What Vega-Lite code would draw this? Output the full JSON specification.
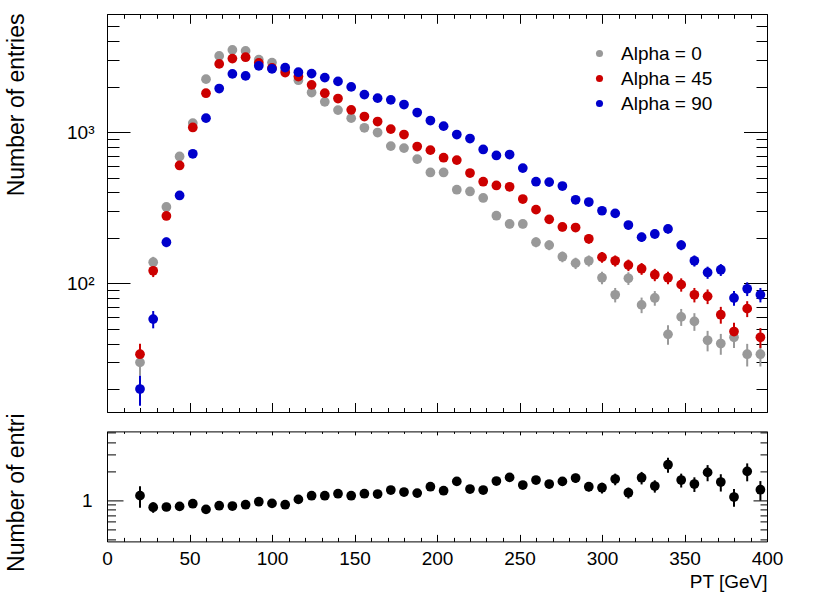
{
  "$schema": "https://vega.github.io/schema/vega-lite/v6.json",
  "padding": {"left": 4, "top": 13, "right": 5, "bottom": 5},
  "background": "white",
  "datasets": {
    "hist": [
      {"pt":20,"s":"Alpha = 0","n":30,"e":5.5},{"pt":28,"s":"Alpha = 0","n":138,"e":11.7},{"pt":36,"s":"Alpha = 0","n":320,"e":17.9},{"pt":44,"s":"Alpha = 0","n":690,"e":26.3},
      {"pt":52,"s":"Alpha = 0","n":1147,"e":33.9},{"pt":60,"s":"Alpha = 0","n":2239,"e":47.3},{"pt":68,"s":"Alpha = 0","n":3192,"e":56.5},{"pt":76,"s":"Alpha = 0","n":3497,"e":59.1},
      {"pt":84,"s":"Alpha = 0","n":3443,"e":58.7},{"pt":92,"s":"Alpha = 0","n":3017,"e":54.9},{"pt":100,"s":"Alpha = 0","n":2883,"e":53.7},{"pt":108,"s":"Alpha = 0","n":2579,"e":50.8},
      {"pt":116,"s":"Alpha = 0","n":2205,"e":47},{"pt":124,"s":"Alpha = 0","n":1826,"e":42.7},{"pt":132,"s":"Alpha = 0","n":1585,"e":39.8},{"pt":140,"s":"Alpha = 0","n":1398,"e":37.4},
      {"pt":148,"s":"Alpha = 0","n":1237,"e":35.2},{"pt":156,"s":"Alpha = 0","n":1068,"e":32.7},{"pt":164,"s":"Alpha = 0","n":994,"e":31.5},{"pt":172,"s":"Alpha = 0","n":808,"e":28.4},
      {"pt":180,"s":"Alpha = 0","n":784,"e":28},{"pt":188,"s":"Alpha = 0","n":663,"e":25.7},{"pt":196,"s":"Alpha = 0","n":541,"e":23.3},{"pt":204,"s":"Alpha = 0","n":541,"e":23.3},
      {"pt":212,"s":"Alpha = 0","n":416,"e":20.4},{"pt":220,"s":"Alpha = 0","n":405,"e":20.1},{"pt":228,"s":"Alpha = 0","n":367,"e":19.2},{"pt":236,"s":"Alpha = 0","n":280,"e":16.7},
      {"pt":244,"s":"Alpha = 0","n":247,"e":15.7},{"pt":252,"s":"Alpha = 0","n":247,"e":15.7},{"pt":260,"s":"Alpha = 0","n":187,"e":13.7},{"pt":268,"s":"Alpha = 0","n":179,"e":13.4},
      {"pt":276,"s":"Alpha = 0","n":150,"e":12.2},{"pt":284,"s":"Alpha = 0","n":136,"e":11.7},{"pt":292,"s":"Alpha = 0","n":141,"e":11.9},{"pt":300,"s":"Alpha = 0","n":109,"e":10.4},
      {"pt":308,"s":"Alpha = 0","n":84,"e":9.2},{"pt":316,"s":"Alpha = 0","n":108,"e":10.4},{"pt":324,"s":"Alpha = 0","n":72,"e":8.5},{"pt":332,"s":"Alpha = 0","n":80,"e":8.9},
      {"pt":340,"s":"Alpha = 0","n":46,"e":6.8},{"pt":348,"s":"Alpha = 0","n":60,"e":7.7},{"pt":356,"s":"Alpha = 0","n":56,"e":7.5},{"pt":364,"s":"Alpha = 0","n":42,"e":6.5},
      {"pt":372,"s":"Alpha = 0","n":40,"e":6.3},{"pt":380,"s":"Alpha = 0","n":44,"e":6.6},{"pt":388,"s":"Alpha = 0","n":34,"e":5.8},{"pt":396,"s":"Alpha = 0","n":34,"e":5.8},
      {"pt":20,"s":"Alpha = 45","n":34,"e":5.8},{"pt":28,"s":"Alpha = 45","n":121,"e":11},{"pt":36,"s":"Alpha = 45","n":279,"e":16.7},{"pt":44,"s":"Alpha = 45","n":602,"e":24.5},
      {"pt":52,"s":"Alpha = 45","n":1073,"e":32.8},{"pt":60,"s":"Alpha = 45","n":1809,"e":42.5},{"pt":68,"s":"Alpha = 45","n":2826,"e":53.2},{"pt":76,"s":"Alpha = 45","n":3063,"e":55.3},
      {"pt":84,"s":"Alpha = 45","n":3129,"e":55.9},{"pt":92,"s":"Alpha = 45","n":2870,"e":53.6},{"pt":100,"s":"Alpha = 45","n":2659,"e":51.6},{"pt":108,"s":"Alpha = 45","n":2476,"e":49.8},
      {"pt":116,"s":"Alpha = 45","n":2329,"e":48.3},{"pt":124,"s":"Alpha = 45","n":2053,"e":45.3},{"pt":132,"s":"Alpha = 45","n":1809,"e":42.5},{"pt":140,"s":"Alpha = 45","n":1667,"e":40.8},
      {"pt":148,"s":"Alpha = 45","n":1404,"e":37.5},{"pt":156,"s":"Alpha = 45","n":1268,"e":35.6},{"pt":164,"s":"Alpha = 45","n":1175,"e":34.3},{"pt":172,"s":"Alpha = 45","n":1047,"e":32.4},
      {"pt":180,"s":"Alpha = 45","n":964,"e":31},{"pt":188,"s":"Alpha = 45","n":803,"e":28.3},{"pt":196,"s":"Alpha = 45","n":760,"e":27.6},{"pt":204,"s":"Alpha = 45","n":677,"e":26},
      {"pt":212,"s":"Alpha = 45","n":653,"e":25.6},{"pt":220,"s":"Alpha = 45","n":536,"e":23.2},{"pt":228,"s":"Alpha = 45","n":470,"e":21.7},{"pt":236,"s":"Alpha = 45","n":444,"e":21.1},
      {"pt":244,"s":"Alpha = 45","n":435,"e":20.9},{"pt":252,"s":"Alpha = 45","n":361,"e":19},{"pt":260,"s":"Alpha = 45","n":307,"e":17.5},{"pt":268,"s":"Alpha = 45","n":265,"e":16.3},
      {"pt":276,"s":"Alpha = 45","n":236,"e":15.4},{"pt":284,"s":"Alpha = 45","n":234,"e":15.3},{"pt":292,"s":"Alpha = 45","n":197,"e":14},{"pt":300,"s":"Alpha = 45","n":149,"e":12.2},
      {"pt":308,"s":"Alpha = 45","n":141,"e":11.9},{"pt":316,"s":"Alpha = 45","n":132,"e":11.5},{"pt":324,"s":"Alpha = 45","n":125,"e":11.2},{"pt":332,"s":"Alpha = 45","n":114,"e":10.7},
      {"pt":340,"s":"Alpha = 45","n":109,"e":10.4},{"pt":348,"s":"Alpha = 45","n":98,"e":9.9},{"pt":356,"s":"Alpha = 45","n":84,"e":9.2},{"pt":364,"s":"Alpha = 45","n":82,"e":9.1},
      {"pt":372,"s":"Alpha = 45","n":62,"e":7.9},{"pt":380,"s":"Alpha = 45","n":48,"e":6.9},{"pt":388,"s":"Alpha = 45","n":68,"e":8.2},{"pt":396,"s":"Alpha = 45","n":44,"e":6.6},
      {"pt":20,"s":"Alpha = 90","n":20,"e":4.5},{"pt":28,"s":"Alpha = 90","n":58,"e":7.6},{"pt":36,"s":"Alpha = 90","n":187,"e":13.7},{"pt":44,"s":"Alpha = 90","n":381,"e":19.5},
      {"pt":52,"s":"Alpha = 90","n":719,"e":26.8},{"pt":60,"s":"Alpha = 90","n":1237,"e":35.2},{"pt":68,"s":"Alpha = 90","n":1941,"e":44.1},{"pt":76,"s":"Alpha = 90","n":2427,"e":49.3},
      {"pt":84,"s":"Alpha = 90","n":2354,"e":48.5},{"pt":92,"s":"Alpha = 90","n":2742,"e":52.4},{"pt":100,"s":"Alpha = 90","n":2619,"e":51.2},{"pt":108,"s":"Alpha = 90","n":2671,"e":51.7},
      {"pt":116,"s":"Alpha = 90","n":2490,"e":49.9},{"pt":124,"s":"Alpha = 90","n":2438,"e":49.4},{"pt":132,"s":"Alpha = 90","n":2294,"e":47.9},{"pt":140,"s":"Alpha = 90","n":2165,"e":46.5},
      {"pt":148,"s":"Alpha = 90","n":1991,"e":44.6},{"pt":156,"s":"Alpha = 90","n":1771,"e":42.1},{"pt":164,"s":"Alpha = 90","n":1677,"e":41},{"pt":172,"s":"Alpha = 90","n":1634,"e":40.4},
      {"pt":180,"s":"Alpha = 90","n":1521,"e":39},{"pt":188,"s":"Alpha = 90","n":1347,"e":36.7},{"pt":196,"s":"Alpha = 90","n":1193,"e":34.5},{"pt":204,"s":"Alpha = 90","n":1095,"e":33.1},
      {"pt":212,"s":"Alpha = 90","n":964,"e":31},{"pt":220,"s":"Alpha = 90","n":907,"e":30.1},{"pt":228,"s":"Alpha = 90","n":768,"e":27.7},{"pt":236,"s":"Alpha = 90","n":701,"e":26.5},
      {"pt":244,"s":"Alpha = 90","n":711,"e":26.7},{"pt":252,"s":"Alpha = 90","n":578,"e":24},{"pt":260,"s":"Alpha = 90","n":470,"e":21.7},{"pt":268,"s":"Alpha = 90","n":467,"e":21.6},
      {"pt":276,"s":"Alpha = 90","n":440,"e":21},{"pt":284,"s":"Alpha = 90","n":357,"e":18.9},{"pt":292,"s":"Alpha = 90","n":345,"e":18.6},{"pt":300,"s":"Alpha = 90","n":302,"e":17.4},
      {"pt":308,"s":"Alpha = 90","n":290,"e":17},{"pt":316,"s":"Alpha = 90","n":243,"e":15.6},{"pt":324,"s":"Alpha = 90","n":202,"e":14.2},{"pt":332,"s":"Alpha = 90","n":212,"e":14.6},
      {"pt":340,"s":"Alpha = 90","n":229,"e":15.1},{"pt":348,"s":"Alpha = 90","n":179,"e":13.4},{"pt":356,"s":"Alpha = 90","n":141,"e":11.9},{"pt":364,"s":"Alpha = 90","n":118,"e":10.9},
      {"pt":372,"s":"Alpha = 90","n":123,"e":11.1},{"pt":380,"s":"Alpha = 90","n":80,"e":8.9},{"pt":388,"s":"Alpha = 90","n":92,"e":9.6},{"pt":396,"s":"Alpha = 90","n":84,"e":9.2}
    ],
    "ratio": [
      {"pt":20,"r":1.12,"e":0.28},{"pt":28,"r":0.85,"e":0.106},{"pt":36,"r":0.855,"e":0.07},{"pt":44,"r":0.867,"e":0.048},
      {"pt":52,"r":0.924,"e":0.039},{"pt":60,"r":0.807,"e":0.026},{"pt":68,"r":0.882,"e":0.023},{"pt":76,"r":0.875,"e":0.022},
      {"pt":84,"r":0.903,"e":0.022},{"pt":92,"r":0.97,"e":0.025},{"pt":100,"r":0.931,"e":0.025},{"pt":108,"r":0.903,"e":0.025},
      {"pt":116,"r":1.024,"e":0.03},{"pt":124,"r":1.118,"e":0.036},{"pt":132,"r":1.118,"e":0.038},{"pt":140,"r":1.173,"e":0.043},
      {"pt":148,"r":1.118,"e":0.044},{"pt":156,"r":1.173,"e":0.049},{"pt":164,"r":1.164,"e":0.05},{"pt":172,"r":1.28,"e":0.06},
      {"pt":180,"r":1.22,"e":0.059},{"pt":188,"r":1.19,"e":0.062},{"pt":196,"r":1.386,"e":0.078},{"pt":204,"r":1.26,"e":0.073},
      {"pt":212,"r":1.572,"e":0.099},{"pt":220,"r":1.312,"e":0.086},{"pt":228,"r":1.281,"e":0.089},{"pt":236,"r":1.587,"e":0.121},
      {"pt":244,"r":1.729,"e":0.138},{"pt":252,"r":1.443,"e":0.119},{"pt":260,"r":1.625,"e":0.15},{"pt":268,"r":1.478,"e":0.143},
      {"pt":276,"r":1.572,"e":0.164},{"pt":284,"r":1.704,"e":0.184},{"pt":292,"r":1.386,"e":0.153},{"pt":300,"r":1.353,"e":0.171},
      {"pt":308,"r":1.664,"e":0.229},{"pt":316,"r":1.201,"e":0.156},{"pt":324,"r":1.717,"e":0.254},{"pt":332,"r":1.409,"e":0.205},
      {"pt":340,"r":2.34,"e":0.413},{"pt":348,"r":1.625,"e":0.266},{"pt":356,"r":1.478,"e":0.255},{"pt":364,"r":1.948,"e":0.37},
      {"pt":372,"r":1.55,"e":0.315},{"pt":380,"r":1.084,"e":0.226},{"pt":388,"r":1.995,"e":0.419},{"pt":396,"r":1.29,"e":0.295}
    ]
  },
  "vconcat": [
    {
      "width": 660,
      "height": 398,
      "data": {"name": "hist"},
      "resolve": {"axis": {"x": "independent", "y": "independent"}},
      "layer": [
        {
          "mark": {"type": "errorbar", "thickness": 2, "ticks": false},
          "encoding": {
            "x": {"field": "pt", "type": "quantitative",
              "scale": {"domain": [0, 400], "nice": false, "zero": false},
              "axis": {"orient": "bottom", "values": [0,50,100,150,200,250,300,350,400], "tickSize": -9.5, "labels": false, "title": null}},
            "y": {"field": "n", "type": "quantitative",
              "scale": {"type": "log", "domain": [14.1, 6040], "nice": false},
              "axis": {"orient": "left", "values": [100, 1000], "tickSize": -23, "labelPadding": 36,
                "labelExpr": "datum.value == 100 ? '10²' : '10³'", "labelBaseline": "middle", "labelFlush": false,
                "title": "Number of entries", "titleX": -84, "titleY": -1, "titleAngle": -90,
                "titleAlign": "right", "titleBaseline": "alphabetic"}},
            "yError": {"field": "e"},
            "color": {"field": "s", "type": "nominal",
              "scale": {"domain": ["Alpha = 0", "Alpha = 45", "Alpha = 90"], "range": ["#999999", "#cc0000", "#0000cc"]},
              "legend": {"title": null, "orient": "none", "legendX": 483, "legendY": 30, "symbolType": "circle",
                "symbolSize": 50, "symbolStrokeWidth": 0, "labelFontSize": 19, "labelFont": "Liberation Sans",
                "labelColor": "#000", "labelOffset": 12, "rowPadding": 5, "padding": 0}}
          }
        },
        {
          "mark": {"type": "point", "filled": true, "opacity": 1, "size": 95},
          "encoding": {
            "x": {"field": "pt", "type": "quantitative",
              "scale": {"domain": [0, 400], "nice": false, "zero": false},
              "axis": {"orient": "bottom", "values": [0,10,20,30,40,50,60,70,80,90,100,110,120,130,140,150,160,170,180,190,200,210,220,230,240,250,260,270,280,290,300,310,320,330,340,350,360,370,380,390,400],
                "tickSize": -4.5, "labels": false, "domain": false, "title": null}},
            "y": {"field": "n", "type": "quantitative",
              "scale": {"type": "log", "domain": [14.1, 6040], "nice": false},
              "axis": {"orient": "left", "values": [20,30,40,50,60,70,80,90,200,300,400,500,600,700,800,900,2000,3000,4000,5000],
                "tickSize": -12, "labels": false, "domain": false, "title": null}},
            "color": {"field": "s", "type": "nominal",
              "scale": {"domain": ["Alpha = 0", "Alpha = 45", "Alpha = 90"], "range": ["#999999", "#cc0000", "#0000cc"]},
              "legend": {"title": null, "orient": "none", "legendX": 483, "legendY": 30, "symbolType": "circle",
                "symbolSize": 50, "symbolStrokeWidth": 0, "labelFontSize": 19, "labelFont": "Liberation Sans",
                "labelColor": "#000", "labelOffset": 12, "rowPadding": 5, "padding": 0}}
          }
        },
        {
          "mark": {"type": "point", "opacity": 0},
          "encoding": {
            "x": {"field": "pt", "type": "quantitative",
              "scale": {"domain": [0, 400], "nice": false, "zero": false},
              "axis": {"orient": "top", "values": [0,50,100,150,200,250,300,350,400], "tickSize": -9.3, "labels": false, "title": null}},
            "y": {"field": "n", "type": "quantitative",
              "scale": {"type": "log", "domain": [14.1, 6040], "nice": false},
              "axis": {"orient": "right", "values": [100, 1000], "tickSize": -23.5, "labels": false, "title": null}}
          }
        },
        {
          "mark": {"type": "point", "opacity": 0},
          "encoding": {
            "x": {"field": "pt", "type": "quantitative",
              "scale": {"domain": [0, 400], "nice": false, "zero": false},
              "axis": {"orient": "top", "values": [0,10,20,30,40,50,60,70,80,90,100,110,120,130,140,150,160,170,180,190,200,210,220,230,240,250,260,270,280,290,300,310,320,330,340,350,360,370,380,390,400],
                "tickSize": -4.3, "labels": false, "domain": false, "title": null}},
            "y": {"field": "n", "type": "quantitative",
              "scale": {"type": "log", "domain": [14.1, 6040], "nice": false},
              "axis": {"orient": "right", "values": [20,30,40,50,60,70,80,90,200,300,400,500,600,700,800,900,2000,3000,4000,5000],
                "tickSize": -11, "labels": false, "domain": false, "title": null}}
          }
        }
      ]
    },
    {
      "width": 660,
      "height": 110,
      "data": {"name": "ratio"},
      "resolve": {"axis": {"x": "independent", "y": "independent"}},
      "layer": [
        {
          "mark": {"type": "errorbar", "thickness": 2, "ticks": false, "color": "#000"},
          "encoding": {
            "x": {"field": "pt", "type": "quantitative",
              "scale": {"domain": [0, 400], "nice": false, "zero": false},
              "axis": {"orient": "bottom", "values": [0,50,100,150,200,250,300,350,400], "tickSize": -7, "labelPadding": 15, "labelFlush": false,
                "title": "PT [GeV]", "titleX": 660, "titleY": 46, "titleAlign": "right", "titleAnchor": "end",
                "titleBaseline": "alphabetic", "titleFontSize": 19}},
            "y": {"field": "r", "type": "quantitative",
              "scale": {"type": "log", "domain": [0.377, 5.17], "nice": false},
              "axis": {"orient": "left", "values": [1], "tickSize": -16, "labelPadding": 31, "labelBaseline": "middle", "labelFlush": false,
                "title": "Number of entri", "titleX": -84, "titleY": 140, "titleAngle": -90,
                "titleAlign": "left", "titleBaseline": "alphabetic"}},
            "yError": {"field": "e"}
          }
        },
        {
          "mark": {"type": "point", "filled": true, "opacity": 1, "size": 95, "color": "#000"},
          "encoding": {
            "x": {"field": "pt", "type": "quantitative",
              "scale": {"domain": [0, 400], "nice": false, "zero": false},
              "axis": {"orient": "bottom", "values": [0,10,20,30,40,50,60,70,80,90,100,110,120,130,140,150,160,170,180,190,200,210,220,230,240,250,260,270,280,290,300,310,320,330,340,350,360,370,380,390,400],
                "tickSize": -4, "labels": false, "domain": false, "title": null}},
            "y": {"field": "r", "type": "quantitative",
              "scale": {"type": "log", "domain": [0.377, 5.17], "nice": false},
              "axis": {"orient": "left", "values": [0.4,0.5,0.6,0.7,0.8,0.9,2,3,4,5], "tickSize": -8.5, "labels": false, "domain": false, "title": null}}
          }
        },
        {
          "mark": {"type": "point", "opacity": 0},
          "encoding": {
            "x": {"field": "pt", "type": "quantitative",
              "scale": {"domain": [0, 400], "nice": false, "zero": false},
              "axis": {"orient": "top", "values": [0,50,100,150,200,250,300,350,400], "tickSize": -3.5, "labels": false, "title": null}},
            "y": {"field": "r", "type": "quantitative",
              "scale": {"type": "log", "domain": [0.377, 5.17], "nice": false},
              "axis": {"orient": "right", "values": [1], "tickSize": -14, "labels": false, "title": null}}
          }
        },
        {
          "mark": {"type": "point", "opacity": 0},
          "encoding": {
            "x": {"field": "pt", "type": "quantitative",
              "scale": {"domain": [0, 400], "nice": false, "zero": false},
              "axis": {"orient": "top", "values": [0,10,20,30,40,50,60,70,80,90,100,110,120,130,140,150,160,170,180,190,200,210,220,230,240,250,260,270,280,290,300,310,320,330,340,350,360,370,380,390,400],
                "tickSize": -2, "labels": false, "domain": false, "title": null}},
            "y": {"field": "r", "type": "quantitative",
              "scale": {"type": "log", "domain": [0.377, 5.17], "nice": false},
              "axis": {"orient": "right", "values": [0.4,0.5,0.6,0.7,0.8,0.9,2,3,4,5], "tickSize": -7, "labels": false, "domain": false, "title": null}}
          }
        }
      ]
    }
  ],
  "spacing": 19.4,
  "bounds": "flush",
  "resolve": {"scale": {"x": "independent", "y": "independent", "color": "independent"}, "legend": {"color": "independent"}},
  "config": {
    "view": {"stroke": null},
    "axis": {
      "grid": false, "domainColor": "#000", "tickColor": "#000", "domainWidth": 1, "tickWidth": 1,
      "labelColor": "#000", "titleColor": "#000", "labelFont": "Liberation Sans", "titleFont": "Liberation Sans",
      "labelFontSize": 19, "titleFontSize": 23, "titleFontWeight": "normal"
    }
  }
}
